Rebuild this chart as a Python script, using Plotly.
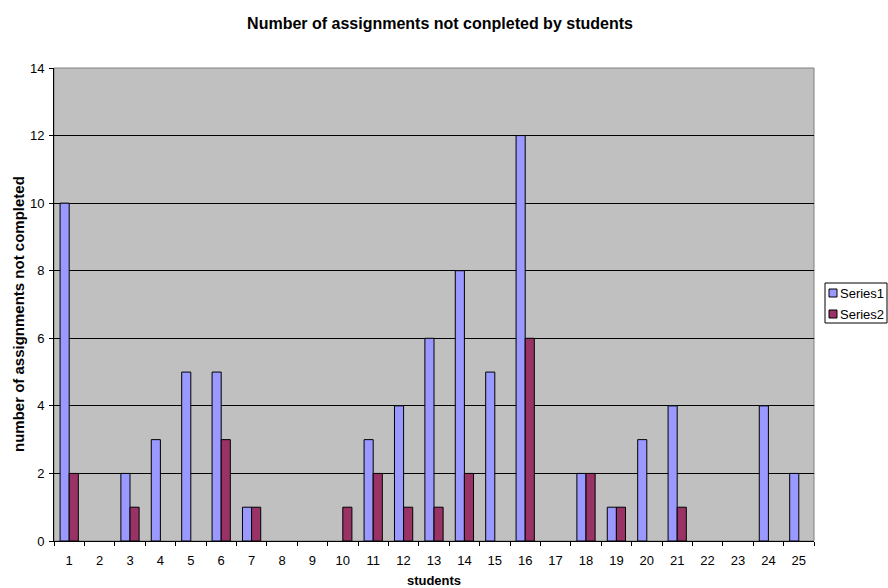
import plotly.graph_objects as go

students = [str(i) for i in range(1, 26)]
series1 = [10, 0, 2, 3, 5, 5, 1, 0, 0, 0, 3, 4, 6, 8, 5, 12, 0, 2, 1, 3, 4, 0, 0, 4, 2]
series2 = [2, 0, 1, 0, 0, 3, 1, 0, 0, 1, 2, 1, 1, 2, 0, 6, 0, 2, 1, 0, 1, 0, 0, 0, 0]
series_names = ["Series1", "Series2"]
series_colors = ["#9999FF", "#993366"]

def nz(v):
    return [x if x != 0 else None for x in v]

font = "Liberation Sans, Arial, sans-serif"
W, H = 888, 588
L, R, T, B = 54, 814, 68, 541

def px(x):
    return (x - L) / (R - L)

def py(y):
    return (B - y) / (B - T)

fig = go.Figure()
for name, vals, col in zip(series_names, [series1, series2], series_colors):
    fig.add_trace(go.Bar(x=students, y=nz(vals), name=name, showlegend=False,
                         marker=dict(color=col, line=dict(color="black", width=1))))

# plot area border
fig.add_shape(type="rect", xref="paper", yref="paper", x0=0, y0=0, x1=1, y1=1,
              line=dict(color="#808080", width=1), layer="below")

# legend box
fig.add_shape(type="rect", xref="paper", yref="paper",
              x0=px(825), x1=px(887), y0=py(283), y1=py(323),
              line=dict(color="black", width=1), fillcolor="white")
for i, (name, col) in enumerate(zip(series_names, series_colors)):
    cy = 293 + i * 21
    fig.add_shape(type="rect", xref="paper", yref="paper",
                  x0=px(829), x1=px(837), y0=py(cy - 4), y1=py(cy + 4),
                  line=dict(color="black", width=1), fillcolor=col)
    fig.add_annotation(xref="paper", yref="paper", x=px(838), y=py(cy),
                       xanchor="left", yanchor="middle", text=name, showarrow=False,
                       font=dict(size=13, family=font, color="black"))

# y axis title
fig.add_annotation(xref="paper", yref="paper", x=px(18), y=py(314),
                   xanchor="center", yanchor="middle", textangle=-90, showarrow=False,
                   text="<b>number of assignments not completed</b>",
                   font=dict(size=15, family=font, color="black"))

fig.update_layout(
    width=W, height=H,
    margin=dict(l=L, r=W - R, t=T, b=H - B, autoexpand=False),
    paper_bgcolor="white", plot_bgcolor="#C0C0C0",
    font=dict(family=font, size=13, color="black"),
    title=dict(text="<b>Number of assignments not conpleted by students</b>",
               x=440 / W, xanchor="center", y=1 - 23 / H, yanchor="middle",
               font=dict(size=16)),
    barmode="group", bargap=0.4, bargroupgap=0,
    showlegend=False,
    xaxis=dict(type="category", tickson="boundaries", ticks="outside", ticklen=4,
               tickcolor="black", showline=True, linecolor="black", linewidth=1,
               showgrid=False, automargin=False, ticklabelstandoff=7,
               title=dict(text="<b>students</b>", font=dict(size=13), standoff=13)),
    yaxis=dict(range=[0, 14], dtick=2, ticks="outside", ticklen=4, tickcolor="black",
               showline=True, linecolor="black", linewidth=1, automargin=False,
               ticklabelstandoff=2,
               showgrid=True, gridcolor="#000000", gridwidth=1, zeroline=False),
)

fig.write_html("out.html", config={"displayModeBar": False},
               post_script="document.body.style.margin='0';document.body.style.overflow='hidden';")
